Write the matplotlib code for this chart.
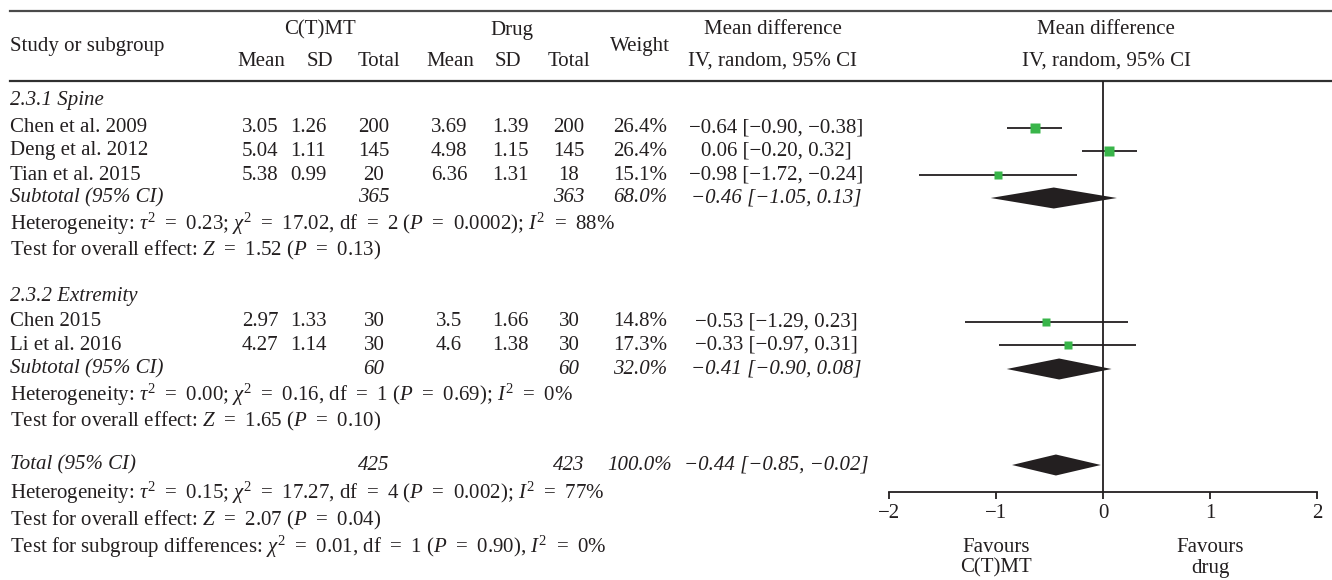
import matplotlib
matplotlib.use('Agg')
import matplotlib.pyplot as plt

plt.rcParams['font.family'] = ['Liberation Serif', 'DejaVu Serif']
plt.rcParams['mathtext.fontset'] = 'custom'
plt.rcParams['mathtext.rm'] = 'Liberation Serif'
plt.rcParams['mathtext.it'] = 'Liberation Serif:italic'

# ---- data ----
studies = ["Chen et al. 2009", "Deng et al. 2012", "Tian et al. 2015", "Chen 2015", "Li et al. 2016"]
c_mean = ["3.05", "5.04", "5.38", "2.97", "4.27"]
c_sd = ["1.26", "1.11", "0.99", "1.33", "1.14"]
c_n = [200, 145, 20, 30, 30]
d_mean = ["3.69", "4.98", "6.36", "3.5", "4.6"]
d_sd = ["1.39", "1.15", "1.31", "1.66", "1.38"]
d_n = [200, 145, 18, 30, 30]
weight = [26.4, 26.4, 15.1, 14.8, 17.3]
md = [-0.64, 0.06, -0.98, -0.53, -0.33]
md_lo = [-0.90, -0.20, -1.72, -1.29, -0.97]
md_hi = [-0.38, 0.32, -0.24, 0.23, 0.31]

sub_labels = ["Subtotal (95% CI)", "Subtotal (95% CI)", "Total (95% CI)"]
sub_c_n = [365, 60, 425]
sub_d_n = [363, 60, 423]
sub_weight = [68.0, 32.0, 100.0]
sub_md = [-0.46, -0.41, -0.44]
sub_lo = [-1.05, -0.90, -0.85]
sub_hi = [0.13, 0.08, -0.02]

groups = ["2.3.1 Spine", "2.3.2 Extremity"]
stats_lines = [
    r"Heterogeneity: $\tau^2$ = 0.23; $\chi^2$ = 17.02, df = 2 ($P$ = 0.0002); $I^2$ = 88%",
    r"Test for overall effect: $Z$ = 1.52 ($P$ = 0.13)",
    r"Heterogeneity: $\tau^2$ = 0.00; $\chi^2$ = 0.16, df = 1 ($P$ = 0.69); $I^2$ = 0%",
    r"Test for overall effect: $Z$ = 1.65 ($P$ = 0.10)",
    r"Heterogeneity: $\tau^2$ = 0.15; $\chi^2$ = 17.27, df = 4 ($P$ = 0.002); $I^2$ = 77%",
    r"Test for overall effect: $Z$ = 2.07 ($P$ = 0.04)",
    r"Test for subgroup differences: $\chi^2$ = 0.01, df = 1 ($P$ = 0.90), $I^2$ = 0%",
]
ticks = [-2, -1, 0, 1, 2]

# ---- layout (pixel rows) ----
W, H = 1332, 580
study_y = [128, 151, 175, 322, 345]
sub_y = [198, 369, 465]
group_y = [100, 297]
stats_y = [224, 250, 395, 421, 493, 520, 547]
col_x = dict(cm=260, csd=308, cn=374, dm=449, dsd=510, dn=569, w=640, md=776)
INK = '#231f20'
GREEN = '#39b54a'
FS = 15


def fmt(v):
    return f"{v:.2f}".replace('-', '\u2212')


def ci_text(m, lo, hi):
    return f"{fmt(m)} [{fmt(lo)}, {fmt(hi)}]"


def widen_eq(s):
    # a bit of extra room around "=" like the typeset original
    return s.replace(" = ", " \u2009=\u2009 ")


fig = plt.figure(figsize=(W / 100, H / 100), dpi=100)
tab = fig.add_axes([0, 0, 1, 1])
tab.set_xlim(0, W)
tab.set_ylim(H, 0)
tab.axis('off')

kw = dict(fontsize=FS, color=INK, va='center')

# header
tab.plot([10, W], [11, 11], color='#4a4a4a', lw=1.6)
tab.plot([10, W], [81, 81], color='#303030', lw=1.6)
tab.text(10, 46, "Study or subgroup", ha='left', **kw)
tab.text(320, 30, "C(T)MT", ha='center', **kw)
tab.text(512, 30, "Drug", ha='center', **kw)
for x, s in [(261, "Mean"), (320, "SD"), (379, "Total"),
             (450, "Mean"), (508, "SD"), (569, "Total")]:
    tab.text(x, 61, s, ha='center', **kw)
tab.text(640, 46, "Weight", ha='center', **kw)
tab.text(773, 30, "Mean difference", ha='center', **kw)
tab.text(772, 61, "IV, random, 95% CI", ha='center', **kw)
tab.text(1106, 30, "Mean difference", ha='center', **kw)
tab.text(1106, 61, "IV, random, 95% CI", ha='center', **kw)

# group labels
for g, y in zip(groups, group_y):
    tab.text(10, y, g, ha='left', style='italic', **kw)

# study rows
for i, y in enumerate(study_y):
    tab.text(10, y, studies[i], ha='left', **kw)
    tab.text(col_x['cm'], y, c_mean[i], ha='center', **kw)
    tab.text(col_x['csd'], y, c_sd[i], ha='center', **kw)
    tab.text(col_x['cn'], y, str(c_n[i]), ha='center', **kw)
    tab.text(col_x['dm'], y, d_mean[i], ha='center', **kw)
    tab.text(col_x['dsd'], y, d_sd[i], ha='center', **kw)
    tab.text(col_x['dn'], y, str(d_n[i]), ha='center', **kw)
    tab.text(col_x['w'], y, f"{weight[i]:.1f}%", ha='center', **kw)
    tab.text(col_x['md'], y, ci_text(md[i], md_lo[i], md_hi[i]), ha='center', **kw)

# subtotal / total rows
for i, y in enumerate(sub_y):
    tab.text(10, y, sub_labels[i], ha='left', style='italic', **kw)
    tab.text(col_x['cn'], y, str(sub_c_n[i]), ha='center', style='italic', **kw)
    tab.text(col_x['dn'], y, str(sub_d_n[i]), ha='center', style='italic', **kw)
    tab.text(col_x['w'], y, f"{sub_weight[i]:.1f}%", ha='center', style='italic', **kw)
    tab.text(col_x['md'], y, ci_text(sub_md[i], sub_lo[i], sub_hi[i]), ha='center',
             style='italic', **kw)

for s, y in zip(stats_lines, stats_y):
    tab.text(10, y, widen_eq(s), ha='left', **kw)

# forest panel: pixel rows on y, effect on x
ax = fig.add_axes([889 / W, (H - 492) / H, 428 / W, (492 - 81) / H])
ax.patch.set_visible(False)
ax.set_xlim(-2, 2)
ax.set_ylim(492, 81)
for sp in ['top', 'right', 'left']:
    ax.spines[sp].set_visible(False)
ax.spines['bottom'].set_color(INK)
ax.spines['bottom'].set_linewidth(1.3)
ax.set_yticks([])
ax.set_xticks(ticks)
ax.tick_params(axis='x', direction='out', length=5, width=1.3, color=INK,
               labelsize=FS, labelcolor=INK, pad=4)
ax.axvline(0, color=INK, lw=1.3, zorder=1)

ax.hlines(study_y, md_lo, md_hi, color=INK, lw=1.3, zorder=2)
for m, y, w in zip(md, study_y, weight):
    ax.plot(m, y, marker='s', ms=1.4 * w ** 0.5, color=GREEN, mec='none', zorder=3)

for m, lo, hi, y in zip(sub_md, sub_lo, sub_hi, sub_y):
    ax.fill([lo, m, hi, m], [y, y - 10.5, y, y + 10.5], color=INK, lw=0, zorder=3)

ax.text(-1, 558, "Favours\nC(T)MT", ha='center', va='center', fontsize=FS, color=INK,
        linespacing=1.1)
ax.text(1, 558, "Favours\ndrug", ha='center', va='center', fontsize=FS, color=INK,
        linespacing=1.1)

fig.savefig('out.png', dpi=100)
